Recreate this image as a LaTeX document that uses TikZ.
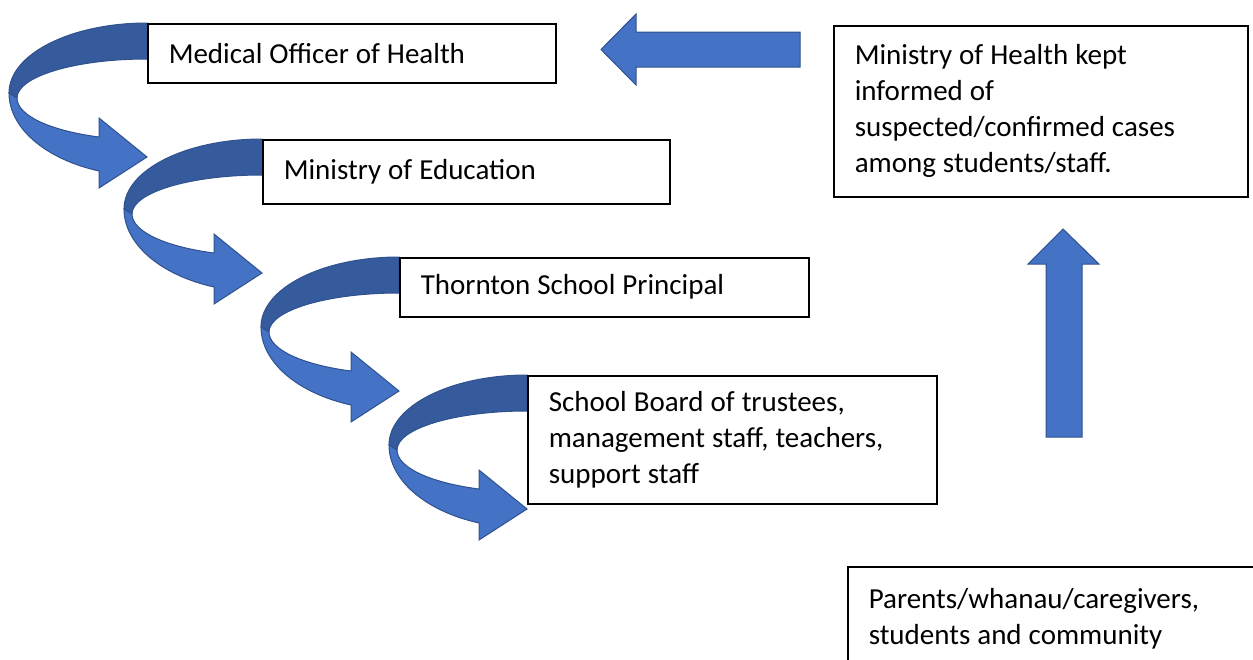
\documentclass[tikz,border=0pt]{standalone}
\usepackage{fontspec}
\setmainfont{Carlito}
\usetikzlibrary{positioning}
\definecolor{ArrowBlue}{HTML}{4472C4}
\definecolor{ArrowShade}{HTML}{365B9D}
\definecolor{ArrowEdge}{HTML}{2F528F}
\pgfdeclarelayer{back}
\pgfsetlayers{back,main}

\begin{document}
\begin{tikzpicture}[x=1pt,y=-1pt,
    box/.style={draw,line width=1.5pt,fill=white,anchor=north west,align=left,
                inner xsep=21pt,inner ysep=0pt,font=\fontsize{29}{36}\selectfont,
                execute at begin node={\spaceskip=7pt\relax}},
    blk/.style={fill=ArrowBlue,draw=ArrowEdge,line width=1pt},
    curl/.pic={
      % back face of the band, then the front face with its head
      \path[blk,fill=ArrowShade] (0,0) .. controls (-76,0) and (-138,31) .. (-138,70)
        -- (-130,75) .. controls (-130,53.5) and (-72,36) .. (0,36) -- cycle;
      \path[blk] (-138,70) .. controls (-138,104.7) and (-102,136) .. (-48,148)
        -- (-48,165) -- (0,134) -- (-48,95) -- (-48,114)
        .. controls (-97.5,107.6) and (-130,92.2) .. (-130,75) -- cycle;
    }]
  \useasboundingbox (0,0) rectangle (1253,659);

  \node[box,text width=366pt,minimum height=59pt] (moh) at (147,23) {Medical Officer of Health};
  \node[box,text width=365pt,minimum height=64pt] (moe) at (262,139) {Ministry of Education};
  \node[box,text width=367pt,minimum height=59pt] (principal) at (399,257) {Thornton School Principal};
  \node[box,text width=367pt,minimum height=128pt] (board) at (527,375)
    {School Board of trustees,\\management staff, teachers,\\support staff};
  \node[box,text width=372pt,minimum height=171pt] (health) at (833,25)
    {Ministry of Health kept\\informed of\\suspected/confirmed cases\\among students/staff.};
  \node[box,text width=400pt,minimum height=104pt] (community) at (847,566)
    {Parents/whanau/caregivers,\\students and community};

  \begin{pgfonlayer}{back}
    \foreach \n in {moh,moe,principal,board}
      \pic at (\n.north west) {curl};
  \end{pgfonlayer}

  % straight block arrows
  \path[blk] (800,32) -- (636,32) -- (636,14) -- (601,49.5) -- (636,85) -- (636,67) -- (800,67) -- cycle;
  \path[blk] (1046,437) -- (1046,264) -- (1028,264) -- (1063,229) -- (1099,264) -- (1082,264) -- (1082,437) -- cycle;
\end{tikzpicture}
\end{document}
